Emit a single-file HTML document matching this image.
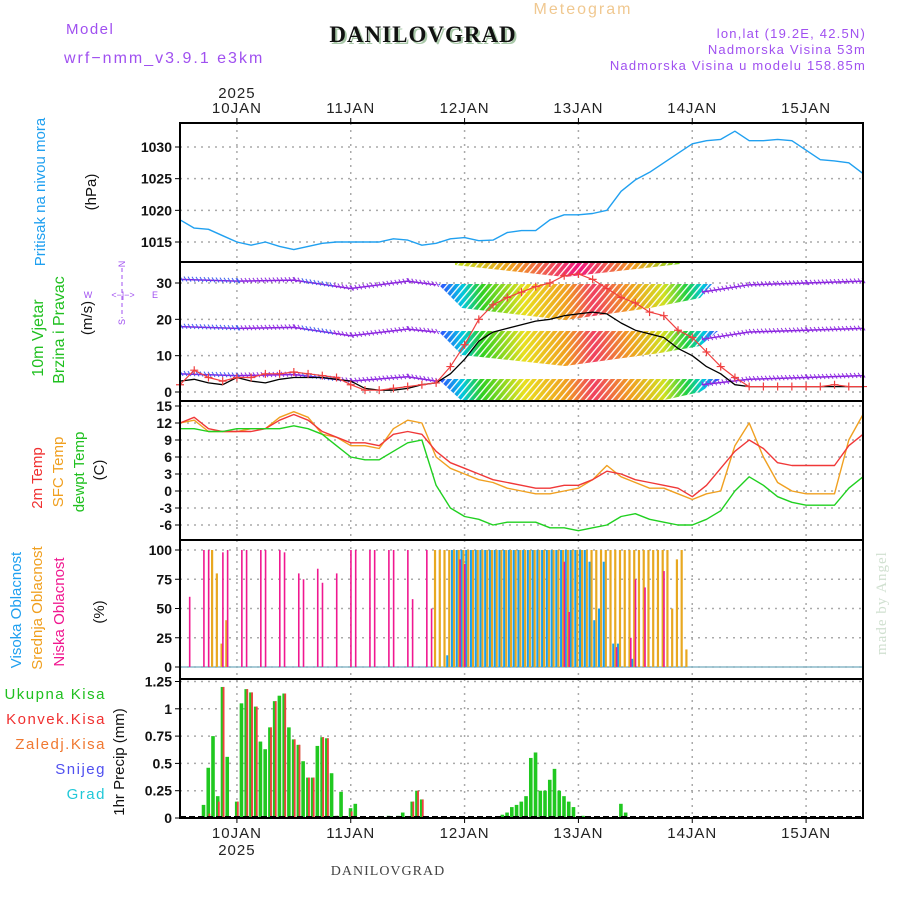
<!DOCTYPE html>
<html><head><meta charset="utf-8">
<style>
html,body{margin:0;padding:0;background:#fff;}
svg{display:block;font-family:"Liberation Sans",sans-serif;}
.tk{font-size:14px;font-weight:bold;fill:#111;text-anchor:end;}
.dl{font-size:15px;fill:#222;text-anchor:middle;letter-spacing:1px;}
</style></head>
<body>
<svg id="chart" width="900" height="900" viewBox="0 0 900 900" xmlns="http://www.w3.org/2000/svg">
<defs>
<pattern id="hatch" patternUnits="userSpaceOnUse" width="5" height="5" patternTransform="rotate(40)">
<rect width="5" height="5" fill="none"/><line x1="0" y1="0" x2="0" y2="5" stroke="#fff" stroke-width="2.6"/>
</pattern>
<linearGradient id="rainbow" gradientUnits="userSpaceOnUse" x1="440" y1="0" x2="720" y2="0">
<stop offset="0" stop-color="#3050ff"/><stop offset="0.08" stop-color="#00c8e0"/><stop offset="0.15" stop-color="#30d020"/>
<stop offset="0.3" stop-color="#e8e020"/><stop offset="0.45" stop-color="#f0a020"/><stop offset="0.55" stop-color="#f04060"/>
<stop offset="0.68" stop-color="#f0a020"/><stop offset="0.8" stop-color="#d0e020"/><stop offset="0.88" stop-color="#20d040"/>
<stop offset="0.94" stop-color="#00c8e0"/><stop offset="1" stop-color="#4040ff"/>
</linearGradient>
<linearGradient id="rainbowTop" gradientUnits="userSpaceOnUse" x1="455" y1="0" x2="680" y2="0">
<stop offset="0" stop-color="#c0e020"/><stop offset="0.25" stop-color="#f0a020"/><stop offset="0.55" stop-color="#f01880"/>
<stop offset="0.8" stop-color="#f0a020"/><stop offset="1" stop-color="#80e020"/>
</linearGradient>
</defs>

<text x="66" y="34" font-size="15" fill="#a050f0" letter-spacing="1.5">Model</text>
<text x="64" y="63" font-size="16" fill="#a050f0" letter-spacing="2">wrf−nmm_v3.9.1 e3km</text>
<text x="425" y="44" font-family="Liberation Serif,serif" font-size="23" font-weight="bold" fill="#a8c8a8" text-anchor="middle" letter-spacing="1">DANILOVGRAD</text>
<text x="423" y="42" font-family="Liberation Serif,serif" font-size="23" font-weight="bold" fill="#111" text-anchor="middle" letter-spacing="1">DANILOVGRAD</text>
<text x="583" y="14" font-size="16" fill="#f0c890" text-anchor="middle" letter-spacing="2">Meteogram</text>
<text x="866" y="38" font-size="13" fill="#a050f0" text-anchor="end" letter-spacing="1.2">lon,lat (19.2E, 42.5N)</text>
<text x="866" y="54" font-size="13" fill="#a050f0" text-anchor="end" letter-spacing="1.2">Nadmorska Visina 53m</text>
<text x="866" y="70" font-size="13" fill="#a050f0" text-anchor="end" letter-spacing="1.2">Nadmorska Visina u modelu 158.85m</text>
<text x="388" y="875" font-family="Liberation Serif,serif" font-size="14" fill="#444" text-anchor="middle" letter-spacing="1">DANILOVGRAD</text>
<text transform="translate(886,655) rotate(-90)" font-family="Liberation Serif,serif" font-size="15" fill="#d0e0d0" letter-spacing="1">made by Angel</text>

<text transform="translate(45,192) rotate(-90)" font-size="15" fill="#20a0f0" text-anchor="middle">Pritisak na nivou mora</text>
<text transform="translate(96,192) rotate(-90)" font-size="15" fill="#111" text-anchor="middle">(hPa)</text>
<text transform="translate(43,338) rotate(-90)" font-size="16" fill="#20c020" text-anchor="middle">10m Vjetar</text>
<text transform="translate(64,330) rotate(-90)" font-size="16" fill="#20c020" text-anchor="middle">Brzina i Pravac</text>
<text transform="translate(92,318) rotate(-90)" font-size="15" fill="#111" text-anchor="middle">(m/s)</text>
<g font-size="9" fill="#a050f0" text-anchor="middle">
<text x="88" y="298">W</text><text x="155" y="298">E</text>
<text transform="translate(125,264) rotate(-90)">N</text><text transform="translate(125,322) rotate(-90)">S</text>
<text x="123" y="298">&lt;−|−&gt;</text>
<line x1="122" y1="268" x2="122" y2="318" stroke="#a050f0" stroke-dasharray="4 3"/>
</g>
<text transform="translate(42,478) rotate(-90)" font-size="15" fill="#f03030" text-anchor="middle">2m Temp</text>
<text transform="translate(63,472) rotate(-90)" font-size="15" fill="#f0a020" text-anchor="middle">SFC Temp</text>
<text transform="translate(84,472) rotate(-90)" font-size="15" fill="#20c020" text-anchor="middle">dewpt Temp</text>
<text transform="translate(104,470) rotate(-90)" font-size="15" fill="#111" text-anchor="middle">(C)</text>
<text transform="translate(21,610) rotate(-90)" font-size="15" fill="#20a0f0" text-anchor="middle">Visoka Oblacnost</text>
<text transform="translate(42,608) rotate(-90)" font-size="15" fill="#f0a020" text-anchor="middle">Srednja Oblacnost</text>
<text transform="translate(64,612) rotate(-90)" font-size="15" fill="#f01890" text-anchor="middle">Niska Oblacnost</text>
<text transform="translate(104,612) rotate(-90)" font-size="15" fill="#111" text-anchor="middle">(%)</text>
<g font-size="15" text-anchor="end" letter-spacing="1.5">
<text x="106" y="699" fill="#20c020">Ukupna Kisa</text>
<text x="106" y="724" fill="#f03030">Konvek.Kisa</text>
<text x="106" y="749" fill="#f07830">Zaledj.Kisa</text>
<text x="106" y="774" fill="#5050f0">Snijeg</text>
<text x="106" y="799" fill="#20c8d8">Grad</text>
</g>
<text transform="translate(124,762) rotate(-90)" font-size="15" fill="#111" text-anchor="middle">1hr Precip (mm)</text>

<g id="layer"></g>
</svg>
<script>
const dayLabels = ["10JAN","11JAN","12JAN","13JAN","14JAN","15JAN"];
const dayHours = [12,36,60,84,108,132];
const h3 = [0,3,6,9,12,15,18,21,24,27,30,33,36,39,42,45,48,51,54,57,60,63,66,69,72,75,78,81,84,87,90,93,96,99,102,105,108,111,114,117,120,123,126,129,132,135,138,141,144];
const pressVals = [1018.5,1017.2,1017,1016,1015,1014.5,1015,1014.3,1013.8,1014.3,1014.8,1015,1015,1015,1015,1015.5,1015.3,1014.5,1014.8,1015.5,1015.7,1015.2,1015.3,1016.5,1016.8,1016.8,1018.5,1019.3,1019.3,1019.5,1020,1023,1024.8,1026,1027.5,1029,1030.5,1031,1031.2,1032.5,1031,1031,1031.2,1031,1029.5,1028,1027.8,1027.5,1025.8];
const pressTicks = [1015,1020,1025,1030];
const windSpeed = [3,3.5,2.5,2,4,3,2.5,3.5,4,4,4,3.5,3,1,0.5,0.5,1,2,2.5,5,9,14,16.5,17.5,18.5,19.5,20,21,21.5,22,21.5,19,17,16,15,12,10,7,5,2,1.5,1.5,1.5,1.5,1.5,1.5,1.5,1.5,1.5];
const windGust = [2,6,4,3,4,4,5,5,5.5,5,4.5,4,2,0.5,0.5,1,1.5,2,2.5,7,13,20,24,26,27.5,29,30,32,32.5,31,28.5,26,24.5,22,21,17,15,11,7,4,1.5,1.5,1.5,1.5,1.5,1.5,2,1.5,1.5];
const windTicks = [0,10,20,30];
const rowHours = [0,12,24,36,48,54];
const rowHoursB = [110,120,132,144];
const row1 = [31,30.5,30.8,28.5,30.5,29.5];
const row2 = [18,17.5,17.8,15.5,17.3,16.5];
const row3 = [5,4.5,4.8,3,4.2,3];
const row1b = [27.5,29.5,30,30.5];
const row2b = [14.5,16.5,17,17.5];
const row3b = [2,3.5,4,4.5];
const t2m = [12,13,11,10.5,10.5,10.5,11,12.5,13.5,12.5,10.5,9.5,8.5,8.5,8,10,10.5,10,7,5,4,3,2,1.5,1,0.5,0.5,1,1,2,3.5,3,2,1.5,1,0.5,-1,1,4,7,9,7.5,5,4.5,4.5,4.5,4.5,8,10];
const tsfc = [12,12.5,10.5,10.5,10.5,11,11,13,14,13,10,9.5,8,8,7.5,11,12.5,12,6,4,3,2,1.5,0.5,0,-0.5,-0.5,0,0.5,2,4.5,2.5,1.5,0.5,0.5,-0.5,-1.5,-0.5,0,8,12,6,1.5,0,-0.5,-0.5,-0.5,9,13.5];
const tdew = [11,11,10.5,10.5,11,11,11,11,11.5,11,10,8,6,5.5,5.5,7,8.5,9,1,-3,-4.5,-5,-6,-5.5,-5.5,-5.5,-6.5,-6.5,-7,-6.5,-6,-4.5,-4,-5,-5.5,-6,-6,-5,-3.5,0,2.5,1,-1,-2,-2.5,-2.5,-2.5,0.5,2.5];
const tempTicks = [15,12,9,6,3,0,-3,-6];
const lowHours = [2,5,6,9,10,13,14,17,18,21,22,25,26,29,30,33,36,37,40,41,44,45,48,49,52,53,59,60,81,82,92,95,96,98,102];
const lowVals = [60,100,100,98,100,100,100,100,100,100,98,80,75,84,72,80,100,100,100,100,100,100,100,58,100,50,92,88,90,47,17,25,75,68,82];
const midHours = [7,8,9,10,54,55,56,57,58,59,60,61,62,63,64,65,66,67,68,69,70,71,72,73,74,75,76,77,78,79,80,81,82,83,84,85,86,87,88,89,90,91,92,93,94,95,96,97,98,99,100,101,102,103,104,105,106,107];
const midVals = [100,80,20,40,100,100,100,100,100,100,100,100,100,100,100,100,100,100,100,100,100,100,100,100,100,100,100,100,100,100,100,100,100,100,100,100,100,100,100,100,100,100,100,100,100,100,100,100,100,100,100,100,100,100,50,92,100,15];
const highHours = [56,57,58,59,60,61,62,63,64,65,66,67,68,69,70,71,72,73,74,75,76,77,78,79,80,81,82,83,84,85,86,87,88,89,91,92,95];
const highVals = [10,100,100,100,100,100,100,100,100,100,100,100,100,100,100,100,100,100,100,100,100,100,100,100,100,100,100,100,100,100,90,40,50,90,20,20,7];
const cloudTicks = [0,25,50,75,100];
const precHours = [5,6,7,8,9,10,12,13,14,15,16,17,18,19,20,21,22,23,24,25,26,27,28,29,30,31,32,33,34,36,37,42,44,46,47,49,50,51,68,69,70,71,72,73,74,75,76,77,78,79,80,81,82,83,85,93,94];
const precTotal = [.12,.46,.75,.2,1.2,.56,.15,1.05,1.18,1.15,1.02,.7,.63,.83,1.07,1.12,1.14,.83,.72,.67,.52,.37,.37,.66,.74,.73,.41,.02,.24,.09,.13,.01,.02,.02,.05,.15,.25,.17,.03,.05,.1,.12,.15,.2,.55,.6,.25,.25,.35,.45,.25,.2,.15,.1,.02,.13,.05];
const precConv = [0,.04,0,.15,1.2,0,.15,0,1.18,1.15,1.02,0,0,.83,1.07,0,1.14,0,.72,.67,0,.37,.37,0,.74,.73,0,.02,0,.06,0,0,0,0,0,.15,.25,.17];
const precTicks = [0,0.25,0.5,0.75,1,1.25];

const NS="http://www.w3.org/2000/svg";
const layer=document.getElementById('layer');
const X0=180,X1=863,HMAX=144;
const X=h=>X0+(X1-X0)*h/HMAX;
function lin(d0,d1,p0,p1){return v=>p0+(v-d0)*(p1-p0)/(d1-d0);}
const panels={
 press:{top:123,bot:262,y:lin(1015,1030,242,147)},
 wind:{top:262,bot:401,y:lin(0,30,392,283)},
 temp:{top:401,bot:540,y:lin(0,15,491,406)},
 cloud:{top:540,bot:679,y:lin(0,100,667,550)},
 prec:{top:679,bot:818,y:lin(0,1.25,818,681.5)}
};
function mk(tag,attrs,parent){const e=document.createElementNS(NS,tag);for(const k in attrs)e.setAttribute(k,attrs[k]);(parent||layer).appendChild(e);return e;}
function grp(name){const g=mk('g',{});return g;}
function grid(p,ticks,name,fmt){
 const g=grp(name+'-grid');
 dayHours.forEach(h=>mk('line',{x1:X(h),x2:X(h),y1:p.top,y2:p.bot,stroke:'#aaa','stroke-dasharray':'2 5','stroke-width':1.5},g));
 ticks.forEach(t=>{const y=p.y(t);
  if(y>p.top+2&&y<p.bot-1)mk('line',{x1:X0,x2:X1,y1:y,y2:y,stroke:'#aaa','stroke-dasharray':'2 5','stroke-width':1.5},g);
  mk('line',{x1:X0-5,x2:X0,y1:y,y2:y,stroke:'#000'},g);
  const t2=mk('text',{x:X0-8,y:y+5,class:'tk'},g);t2.textContent=fmt?fmt(t):t;
  
  
 });
}
function line(hs,vs,p,color,name,w){
 const pts=hs.map((h,i)=>X(h).toFixed(1)+','+p.y(vs[i]).toFixed(1)).join(' ');
 const e=mk('polyline',{points:pts,fill:'none',stroke:color,'stroke-width':w||1.3,'stroke-linejoin':'round'});
 
 
 return e;
}
grid(panels.press,pressTicks,'pressure');
grid(panels.wind,windTicks,'wind');
grid(panels.temp,tempTicks,'temp');
grid(panels.cloud,cloudTicks,'cloud');
grid(panels.prec,precTicks,'precip',t=>String(t));

line(h3,pressVals,panels.press,'#20a0f0','pressure-line',1.4);

const wp=panels.wind;
const wg=grp('wind-direction-fans');
const polys=[
 {pts:[[455,262],[680,262],[680,264],[565,277],[455,265]],fill:'url(#rainbowTop)'},
 {pts:[[438,284],[712,284],[700,298],[650,308],[565,320],[462,308]],fill:'url(#rainbow)'},
 {pts:[[438,331],[718,331],[700,346],[660,353],[565,366],[462,355]],fill:'url(#rainbow)'},
 {pts:[[438,379],[720,379],[700,392],[660,401],[462,401]],fill:'url(#rainbow)'}
];
polys.forEach((p,i)=>{const s=p.pts.map(q=>q.join(',')).join(' ');
 const a=mk('polygon',{points:s,fill:p.fill},wg);
 
 
 mk('polygon',{points:s,fill:'url(#hatch)'},wg);});
function row(hs,vs,name){
 const g=grp(name);
 const pts=hs.map((h,i)=>[X(h),wp.y(vs[i])]);
 mk('polyline',{points:pts.map(q=>q.join(',')).join(' '),fill:'none',stroke:'#8a20e0','stroke-width':1.5},g);
 for(let k=0;k<pts.length-1;k++){const [xa,ya]=pts[k],[xb,yb]=pts[k+1];
  for(let x=xa;x<xb;x+=4){const y=ya+(yb-ya)*(x-xa)/(xb-xa);
   mk('line',{x1:x,y1:y-3,x2:x+3,y2:y+2,stroke:(x<240||(x>300&&x<330))?'#4060f0':'#9030e0','stroke-width':1},g);}}
}
row(rowHours,row1,'wind-row-1');row(rowHours,row2,'wind-row-2');row(rowHours,row3,'wind-row-3');
row(rowHoursB,row1b,'wind-row-1-late');row(rowHoursB,row2b,'wind-row-2-late');row(rowHoursB,row3b,'wind-row-3-late');
line(h3,windSpeed,wp,'#000','wind-speed-line',1.3);
line(h3,windGust,wp,'#f04040','wind-gust-line',1.2);
const gm=grp('wind-gust-markers');
h3.forEach((h,i)=>{const x=X(h),y=wp.y(windGust[i]);
 mk('path',{d:`M${x-4} ${y}H${x+4}M${x} ${y-4}V${y+4}`,stroke:'#f04040','stroke-width':1.2},gm);});

line(h3,tsfc,panels.temp,'#f0a020','sfc-temp-line',1.4);
line(h3,t2m,panels.temp,'#f03838','temp-2m-line',1.4);
line(h3,tdew,panels.temp,'#20d020','dewpoint-line',1.4);

const cp=panels.cloud;
mk('line',{x1:X0,x2:X1,y1:cp.y(0),y2:cp.y(0),stroke:'#8ab8c8','stroke-width':1.5});
const cg=grp('cloud-bars');
midHours.forEach((h,i)=>{const y=cp.y(midVals[i]);
 const r=mk('rect',{x:X(h)-2.2,y:y,width:2.2,height:cp.y(0)-y,fill:'#e8a820'},cg);
 
 });
highHours.forEach((h,i)=>{const y=cp.y(highVals[i]);
 const r=mk('rect',{x:X(h)+0.6,y:y,width:2,height:cp.y(0)-y,fill:'#18a0f0'},cg);
 
 });
lowHours.forEach((h,i)=>{const y=cp.y(lowVals[i]);
 const r=mk('rect',{x:X(h)-0.6,y:y,width:1.6,height:cp.y(0)-y,fill:'#f01890'},cg);
 
 });

const pp=panels.prec;
const pg=grp('precip-bars');
precHours.forEach((h,i)=>{const y=pp.y(precTotal[i]);
 const r=mk('rect',{x:X(h)-2,y:y,width:3.6,height:pp.y(0)-y,fill:'#20c820'},pg);
 
 
 const c=precConv[i]||0;
 if(c>0){const yc=pp.y(c);
  const rc=mk('rect',{x:X(h),y:yc,width:1.8,height:pp.y(0)-yc,fill:'#f04040'},pg);
  
  }
});
mk('line',{x1:X0,x2:X1,y1:pp.y(0)-1,y2:pp.y(0)-1,stroke:'#000','stroke-width':2,'stroke-dasharray':'6 3'});

Object.keys(panels).forEach(k=>{const p=panels[k];
 const r=mk('rect',{x:X0,y:p.top,width:X1-X0,height:p.bot-p.top,fill:'none',stroke:'#000','stroke-width':2});
 
 });

const ax=grp('time-axis');
dayHours.forEach((h,i)=>{
 mk('line',{x1:X(h),x2:X(h),y1:118,y2:123,stroke:'#000'},ax);
 mk('line',{x1:X(h),x2:X(h),y1:818,y2:823,stroke:'#000'},ax);
 const a=mk('text',{x:X(h),y:113,class:'dl'},ax);a.textContent=dayLabels[i];
 
 
 const b=mk('text',{x:X(h),y:838,class:'dl'},ax);b.textContent=dayLabels[i];
 
 
});
const y1=mk('text',{x:X(12),y:98,class:'dl'},ax);y1.textContent='2025';


const y2=mk('text',{x:X(12),y:855,class:'dl'},ax);y2.textContent='2025';


</script>
</body></html>
